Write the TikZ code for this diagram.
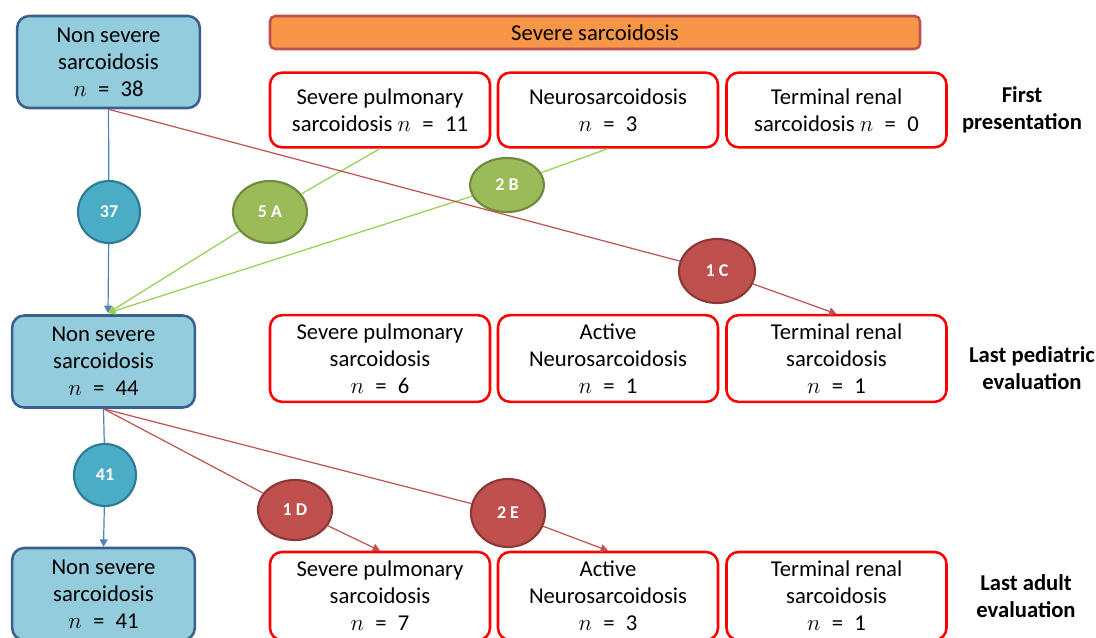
\documentclass[tikz,border=0pt]{standalone}
\usepackage{fontspec}
\setmainfont{Carlito}
\usetikzlibrary{arrows.meta,shapes.geometric}
\definecolor{boxblue}{HTML}{93CDDD}
\definecolor{boxblueborder}{HTML}{3A5F8E}
\definecolor{circblue}{HTML}{4BACC6}
\definecolor{circblueborder}{HTML}{2E7B93}
\definecolor{circgreen}{HTML}{9BBB59}
\definecolor{circgreenborder}{HTML}{71893F}
\definecolor{circred}{HTML}{C0504D}
\definecolor{circredborder}{HTML}{8C3836}
\definecolor{orangefill}{HTML}{F79646}
\definecolor{orangeborder}{HTML}{C0504D}
\definecolor{lineblue}{HTML}{4F81BD}
\definecolor{linegreen}{HTML}{92D050}
\definecolor{linered}{HTML}{C0504D}
\definecolor{boxred}{HTML}{FF0000}
\newcommand{\nn}[1]{$n$\enspace=\enspace#1}
\begin{document}
\begin{tikzpicture}[x=0.75pt,y=-0.75pt,
  every node/.style={font=\fontsize{17}{20.25}\selectfont, align=center, inner sep=0pt},
  nsbox/.style={draw=boxblueborder, fill=boxblue, line width=1.9pt, rounded corners=9pt,
    minimum width=137pt, minimum height=69pt},
  sevbox/.style={draw=boxred, fill=white, line width=1.9pt, rounded corners=9pt,
    minimum width=165pt},
  bar/.style={draw=orangeborder, fill=orangefill, line width=1.9pt, rounded corners=4pt,
    minimum width=487.5pt, minimum height=24.75pt},
  lbl/.style={font=\fontsize{17}{20.25}\selectfont\bfseries},
  circ/.style={ellipse, line width=1.6pt, text=white, font=\fontsize{13.5}{15}\selectfont\bfseries},
  cblue/.style={circ, draw=circblueborder, fill=circblue},
  cgreen/.style={circ, draw=circgreenborder, fill=circgreen},
  cred/.style={circ, draw=circredborder, fill=circred},
  tip/.style={-{Triangle[length=5.5pt,width=6pt]}},
  conblue/.style={draw=lineblue, line width=0.9pt},
  congreen/.style={draw=linegreen, line width=0.9pt},
  conred/.style={draw=linered, line width=0.9pt}
]
\useasboundingbox (0,0) rectangle (1096,637);
\clip (0,0) rectangle (1096,637);

% left column
\node[nsbox] (nb1) at (108.5,62) {Non severe\\sarcoidosis\\\nn{38}};
\node[nsbox] (nb2) at (103.5,361.5) {Non severe\\sarcoidosis\\\nn{44}};
\node[nsbox, minimum height=69pt] (nb3) at (103.5,594) {Non severe\\sarcoidosis\\\nn{41}};

% header
\node[bar] (hdr) at (595,32.5) {Severe sarcoidosis};

% row 1
\node[sevbox, minimum height=56pt] (sp1) at (380,110) {Severe pulmonary\\sarcoidosis \nn{11}};
\node[sevbox, minimum height=56pt] (ne1) at (608,110) {Neurosarcoidosis\\\nn{3}};
\node[sevbox, minimum height=56pt] (tr1) at (836.5,110) {Terminal renal\\sarcoidosis \nn{0}};

% row 2
\node[sevbox, minimum height=65pt] (sp2) at (380,358.5) {Severe pulmonary\\sarcoidosis\\\nn{6}};
\node[sevbox, minimum height=65pt] (ne2) at (608,358.5) {Active\\Neurosarcoidosis\\\nn{1}};
\node[sevbox, minimum height=65pt] (tr2) at (836.5,358.5) {Terminal renal\\sarcoidosis\\\nn{1}};

% row 3
\node[sevbox, minimum height=66pt] (sp3) at (380,596) {Severe pulmonary\\sarcoidosis\\\nn{7}};
\node[sevbox, minimum height=66pt] (ne3) at (608,596) {Active\\Neurosarcoidosis\\\nn{3}};
\node[sevbox, minimum height=66pt] (tr3) at (836.5,596) {Terminal renal\\sarcoidosis\\\nn{1}};

% row labels
\node[lbl] (l1) at (1022,110) {First\\presentation};
\node[lbl] (l2) at (1032,368) {Last pediatric\\evaluation};
\node[lbl] (l3) at (1026,596) {Last adult\\evaluation};

% circles
\node[cblue, minimum width=46.5pt, minimum height=46.5pt] (c37) at (109,212) {37};
\node[cblue, minimum width=46.5pt, minimum height=46.5pt] (c41) at (105,475) {41};
\node[cgreen, minimum width=55.5pt, minimum height=46.5pt] (c5a) at (270,212) {5 A};
\node[cgreen, minimum width=55.5pt, minimum height=40.5pt] (c2b) at (507,185) {2 B};
\node[cred, minimum width=57pt, minimum height=48pt] (c1c) at (717,271) {1 C};
\node[cred, minimum width=55.5pt, minimum height=45pt] (c1d) at (295,510) {1 D};
\node[cred, minimum width=55.5pt, minimum height=51pt] (c2e) at (508,513) {2 E};

\coordinate (t2) at (108,313);

% connectors
\draw[conblue, tip] (nb1.south) -- (c37) -- (t2);
\draw[conblue, tip] (nb2.south) -- (c41) -- (nb3.north);
\draw[congreen, tip] (sp1.south) -- (c5a) -- (t2);
\draw[congreen, tip] (ne1.south) -- (c2b) -- (t2);
\draw[conred, tip] (nb1.south) -- (c1c) -- (tr2.north);
\draw[conred, tip] (nb2.south) -- (c1d) -- (sp3.north);
\draw[conred, tip] (nb2.south) -- (c2e) -- (ne3.north);
\end{tikzpicture}
\end{document}
